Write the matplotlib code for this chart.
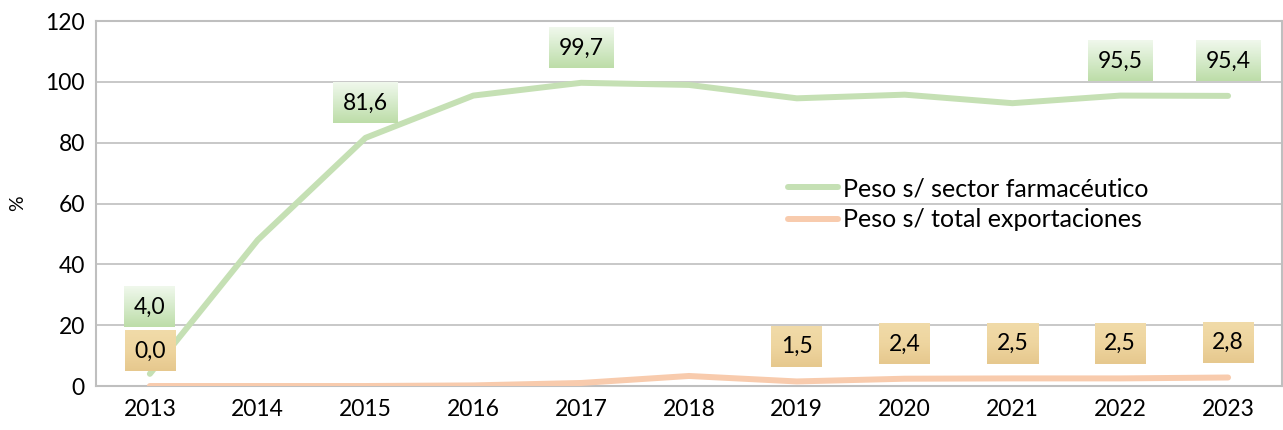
import matplotlib
matplotlib.use("Agg")
import matplotlib.pyplot as plt
import numpy as np
from matplotlib.image import BboxImage
from matplotlib.colors import LinearSegmentedColormap

years = ["2013", "2014", "2015", "2016", "2017", "2018", "2019", "2020", "2021", "2022", "2023"]
farma = [4.0, 48.0, 81.6, 95.5, 99.7, 99.0, 94.6, 95.8, 93.0, 95.5, 95.4]
total = [0.0, 0.0, 0.0, 0.2, 1.0, 3.3, 1.5, 2.4, 2.5, 2.5, 2.8]
farma_labels = {0: "4,0", 2: "81,6", 4: "99,7", 9: "95,5", 10: "95,4"}
total_labels = {0: "0,0", 6: "1,5", 7: "2,4", 8: "2,5", 9: "2,5", 10: "2,8"}
yticks = [0, 20, 40, 60, 80, 100, 120]

plt.rcParams['font.family'] = ['Lato', 'DejaVu Sans']

fig = plt.figure(figsize=(12.83, 4.30), dpi=100)
ax = fig.add_axes([0.0748, 0.1023, 0.9244, 0.8487])

green = "#C5E0B4"
orange = "#F8CBAD"
x = list(range(len(years)))
ax.plot(x, farma, color=green, lw=4.3, solid_capstyle='round', label="Peso s/ sector farmacéutico", zorder=3)
ax.plot(x, total, color=orange, lw=4.3, solid_capstyle='round', label="Peso s/ total exportaciones", zorder=3)

ax.set_xlim(-0.5, len(years) - 0.5)
ax.set_ylim(0, 120)
ax.set_yticks(yticks)
ax.set_xticks(x)
ax.set_xticklabels(years)
ax.tick_params(axis='both', length=0, labelsize=16.5, colors='black')
ax.tick_params(axis='x', pad=9)
ax.tick_params(axis='y', pad=8)
ax.grid(axis='y', color='#BFBFBF', lw=1.2)
ax.set_axisbelow(True)
for s in ax.spines.values():
    s.set_color('#BFBFBF')
    s.set_linewidth(1.5)
ax.set_ylabel("%", fontsize=14, labelpad=14)

anns = []
for i, t in farma_labels.items():
    off = 48 if i == 0 else 25
    a = ax.annotate(t, (x[i], farma[i]), xytext=(0, off), textcoords='offset points',
                    ha='center', va='center', fontsize=16.5, zorder=5,
                    bbox=dict(boxstyle='square,pad=0.42', fc='none', ec='none'))
    anns.append((a, ['#F0F8EC', '#D6EBCB', '#BDDDA8']))
for i, t in total_labels.items():
    a = ax.annotate(t, (x[i], total[i]), xytext=(0, 25), textcoords='offset points',
                    ha='center', va='center', fontsize=16.5, zorder=5,
                    bbox=dict(boxstyle='square,pad=0.42', fc='none', ec='none'))
    anns.append((a, ['#F1DBA9', '#EED59F', '#E6C88E']))

ax.legend(loc='upper left', bbox_to_anchor=(0.575, 0.6), frameon=False, fontsize=18,
          handlelength=2.0, handletextpad=0.2, labelspacing=0.33, borderaxespad=0)

fig.canvas.draw()
grad = np.linspace(0, 1, 64).reshape(-1, 1)
for a, cols in anns:
    bb = a.get_bbox_patch().get_window_extent()
    cmap = LinearSegmentedColormap.from_list('g', cols)
    im = BboxImage(bb, cmap=cmap, origin='upper', zorder=4, interpolation='bilinear')
    im.set_data(grad)
    ax.add_artist(im)

fig.savefig("out.png", dpi=100)
